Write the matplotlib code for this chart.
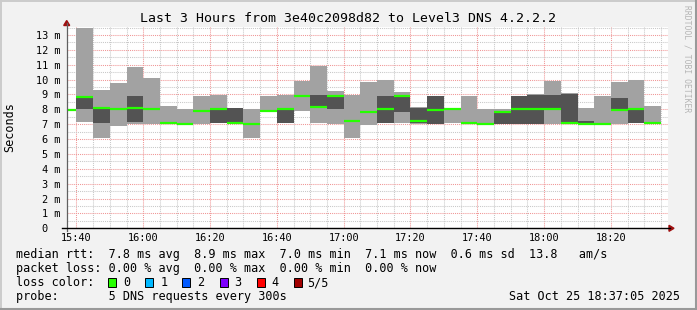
import matplotlib
matplotlib.use('Agg')
import matplotlib.pyplot as plt
import matplotlib.dates as mdates
from matplotlib.lines import Line2D
from matplotlib.patches import Polygon, Rectangle
from matplotlib.ticker import MultipleLocator, FixedLocator
from datetime import datetime, timedelta

# ---------------- data ----------------
bin_starts = ["15:35", "15:40", "15:45", "15:50", "15:55", "16:00", "16:05", "16:10",
              "16:15", "16:20", "16:25", "16:30", "16:35", "16:40", "16:45", "16:50",
              "16:55", "17:00", "17:05", "17:10", "17:15", "17:20", "17:25", "17:30",
              "17:35", "17:40", "17:45", "17:50", "17:55", "18:00", "18:05", "18:10",
              "18:15", "18:20", "18:25", "18:30"]
ping_min = [7.93, 7.15, 6.10, 6.90, 7.00, 7.00, 7.08, 6.98, 7.00, 7.05, 7.06, 6.10,
            7.88, 7.06, 7.92, 7.10, 7.00, 6.10, 6.92, 7.05, 7.08, 7.00, 7.00, 7.06,
            7.05, 6.99, 7.00, 7.00, 7.00, 7.02, 7.08, 7.00, 6.99, 7.04, 7.06, 7.06]
ping_q1 = [7.93, 8.02, 7.10, 7.97, 7.17, 7.98, 7.09, 6.99, 7.87, 7.08, 7.08, 6.98,
           7.89, 7.10, 8.85, 8.12, 8.02, 7.17, 7.82, 7.06, 7.84, 7.05, 7.02, 8.00,
           7.06, 7.00, 7.02, 7.02, 7.02, 8.02, 7.09, 7.02, 7.00, 7.90, 7.08, 7.07]
ping_median = [7.93, 8.85, 8.10, 8.00, 8.07, 8.02, 7.10, 7.00, 7.90, 8.03, 7.10, 7.00,
               7.90, 8.03, 8.90, 8.14, 8.90, 7.20, 7.84, 8.05, 8.88, 7.24, 7.93, 8.05,
               7.07, 7.01, 7.82, 8.05, 8.05, 8.05, 7.10, 7.03, 7.01, 7.93, 8.05, 7.08]
ping_q3 = [7.93, 8.89, 8.12, 8.03, 8.90, 8.06, 7.12, 7.02, 7.92, 8.05, 8.07, 7.02,
           7.92, 8.05, 8.93, 8.99, 8.92, 7.22, 7.87, 8.90, 8.90, 8.12, 8.88, 8.08,
           7.08, 7.02, 7.84, 8.88, 8.97, 8.99, 9.00, 7.20, 7.02, 8.76, 8.07, 7.09]
ping_max = [7.93, 13.49, 9.30, 9.77, 10.87, 10.10, 8.22, 8.00, 8.92, 8.96, 8.10, 8.02,
            8.90, 8.98, 9.90, 10.92, 9.23, 8.95, 9.84, 9.97, 9.17, 8.15, 8.90, 8.11,
            8.90, 8.05, 8.02, 8.92, 9.00, 9.90, 9.10, 8.07, 8.90, 9.84, 9.97, 8.22]

y_ticks = [0, 1, 2, 3, 4, 5, 6, 7, 8, 9, 10, 11, 12, 13]
y_tick_labels = ["0  ", "1 m", "2 m", "3 m", "4 m", "5 m", "6 m", "7 m", "8 m", "9 m",
                 "10 m", "11 m", "12 m", "13 m"]
x_tick_labels = ["15:40", "16:00", "16:20", "16:40", "17:00", "17:20", "17:40", "18:00", "18:20"]

title = "Last 3 Hours from 3e40c2098d82 to Level3 DNS 4.2.2.2"
rtt_line = "median rtt:  7.8 ms avg  8.9 ms max  7.0 ms min  7.1 ms now  0.6 ms sd  13.8   am/s"
loss_line = "packet loss: 0.00 % avg  0.00 % max  0.00 % min  0.00 % now"
probe_line = "probe:       5 DNS requests every 300s"
date_text = "Sat Oct 25 18:37:05 2025"
loss_labels = ["0", "1", "2", "3", "4", "5/5"]
loss_colors = ["#26ff00", "#00b8ff", "#0059ff", "#7e00ff", "#ff0000", "#a10000"]

# ---------------- layout helpers ----------------
W, H = 697, 310
DPI = 100
fig = plt.figure(figsize=(W / DPI, H / DPI), dpi=DPI, facecolor="#f2f2f2")
MONO = "DejaVu Sans Mono"


def fx(px):
    return px / W


def fy(py):
    return 1 - py / H


x_left, x_right, y_top, y_bot = 66.7, 668.0, 27.3, 228.3
ax = fig.add_axes([fx(x_left), fy(y_bot), (x_right - x_left) / W, (y_bot - y_top) / H])
ax.set_facecolor("white")

day = datetime(2025, 10, 25)


def to_dt(s):
    h, m = s.split(":")
    return day.replace(hour=int(h), minute=int(m))


starts = [mdates.date2num(to_dt(s)) for s in bin_starts]
wbin = 5 / 1440.0

light = "#a2a2a2"
dark = "#535353"
ax.bar(starts, [b - a for a, b in zip(ping_min, ping_q1)], bottom=ping_min, width=wbin,
       align="edge", color=light, linewidth=0, zorder=2)
ax.bar(starts, [b - a for a, b in zip(ping_q1, ping_q3)], bottom=ping_q1, width=wbin,
       align="edge", color=dark, linewidth=0, zorder=2)
ax.bar(starts, [b - a for a, b in zip(ping_q3, ping_max)], bottom=ping_q3, width=wbin,
       align="edge", color=light, linewidth=0, zorder=2)
ax.hlines(ping_median, starts, [s + wbin for s in starts], colors="#26ff00", lw=1.6, zorder=3)

t_start = day.replace(hour=15, minute=37, second=5)
t_end = day.replace(hour=18, minute=37, second=5)
ax.set_xlim(mdates.date2num(t_start), mdates.date2num(t_end))
ax.set_ylim(0, 13.52)

# grid
ax.xaxis.set_major_locator(FixedLocator([mdates.date2num(to_dt(s)) for s in x_tick_labels]))
ax.xaxis.set_minor_locator(mdates.MinuteLocator(byminute=range(0, 60, 5)))
ax.set_xticklabels(x_tick_labels)
ax.yaxis.set_major_locator(FixedLocator(y_ticks))
ax.set_yticklabels(y_tick_labels)
ax.yaxis.set_minor_locator(MultipleLocator(0.5))
ax.set_axisbelow(True)
ax.grid(which="minor", color="#c8c8c8", linestyle=(0, (1, 1)), linewidth=0.75, zorder=0)
ax.grid(which="major", color="#f09696", linestyle=(0, (1, 1)), linewidth=0.75, zorder=0)

for sp in ax.spines.values():
    sp.set_visible(False)
ax.tick_params(which="both", length=0)
ax.tick_params(axis="y", pad=4.8, labelsize=7.4, labelcolor="#000000")
ax.tick_params(axis="x", pad=3.5, labelsize=7.4, labelcolor="#000000")
for lab in ax.get_xticklabels() + ax.get_yticklabels():
    lab.set_fontfamily(MONO)

# axis lines + arrows
fig.add_artist(Line2D([fx(x_left), fx(x_left)], [fy(y_bot + 3), fy(23)], color="#606060", lw=0.9))
fig.add_artist(Line2D([fx(62), fx(670)], [fy(y_bot), fy(y_bot)], color="#000000", lw=1.0))
fig.add_artist(Polygon([[fx(x_left - 3), fy(25.5)], [fx(x_left + 3), fy(25.5)], [fx(x_left), fy(20.5)]],
                       closed=True, color="#a01010", transform=fig.transFigure))
fig.add_artist(Polygon([[fx(669), fy(y_bot - 3)], [fx(669), fy(y_bot + 3)], [fx(674), fy(y_bot)]],
                       closed=True, color="#a01010", transform=fig.transFigure))

# texts
fig.text(fx(348), fy(18.5), title, ha="center", va="center", fontsize=9.55, family=MONO, color="#000000")
fig.text(fx(10), fy(127.5), "Seconds", ha="center", va="center", rotation=90, fontsize=8.5,
         family=MONO, color="#000000")
fig.text(fx(686.5), fy(5), "RRDTOOL / TOBI OETIKER", ha="center", va="top", rotation=270,
         fontsize=5.8, family=MONO, color="#b5b5b5")

fs = 8.5
fig.text(fx(16), fy(254.5), rtt_line, ha="left", va="center", fontsize=fs, family=MONO)
fig.text(fx(16), fy(268.5), loss_line, ha="left", va="center", fontsize=fs, family=MONO)
fig.text(fx(16), fy(282.5), "loss color:", ha="left", va="center", fontsize=fs, family=MONO)
sq_x = [108, 145, 182, 219.5, 256.5, 293.5]
lab_x = [123.5, 160.5, 197.5, 234.5, 271.5, 307.5]
for sx, lx, lab, col in zip(sq_x, lab_x, loss_labels, loss_colors):
    fig.add_artist(Rectangle((fx(sx), fy(287)), 8 / W, 9 / H, facecolor=col, edgecolor="#000000",
                             lw=0.7, transform=fig.transFigure))
    fig.text(fx(lx), fy(282.5), lab, ha="left", va="center", fontsize=fs, family=MONO)
fig.text(fx(16), fy(296.5), probe_line, ha="left", va="center", fontsize=fs, family=MONO)
fig.text(fx(680), fy(296.5), date_text, ha="right", va="center", fontsize=fs, family=MONO)

# frame shading
fig.add_artist(Line2D([0, 1], [fy(0.5), fy(0.5)], color="#cbcbcb", lw=1.4))
fig.add_artist(Line2D([fx(0.5), fx(0.5)], [0, 1], color="#cbcbcb", lw=1.4))
fig.add_artist(Line2D([0, 1], [fy(309), fy(309)], color="#999999", lw=1.5))
fig.add_artist(Line2D([fx(696), fx(696)], [0, 1], color="#999999", lw=1.5))

fig.savefig("out.png", dpi=DPI, facecolor=fig.get_facecolor())
